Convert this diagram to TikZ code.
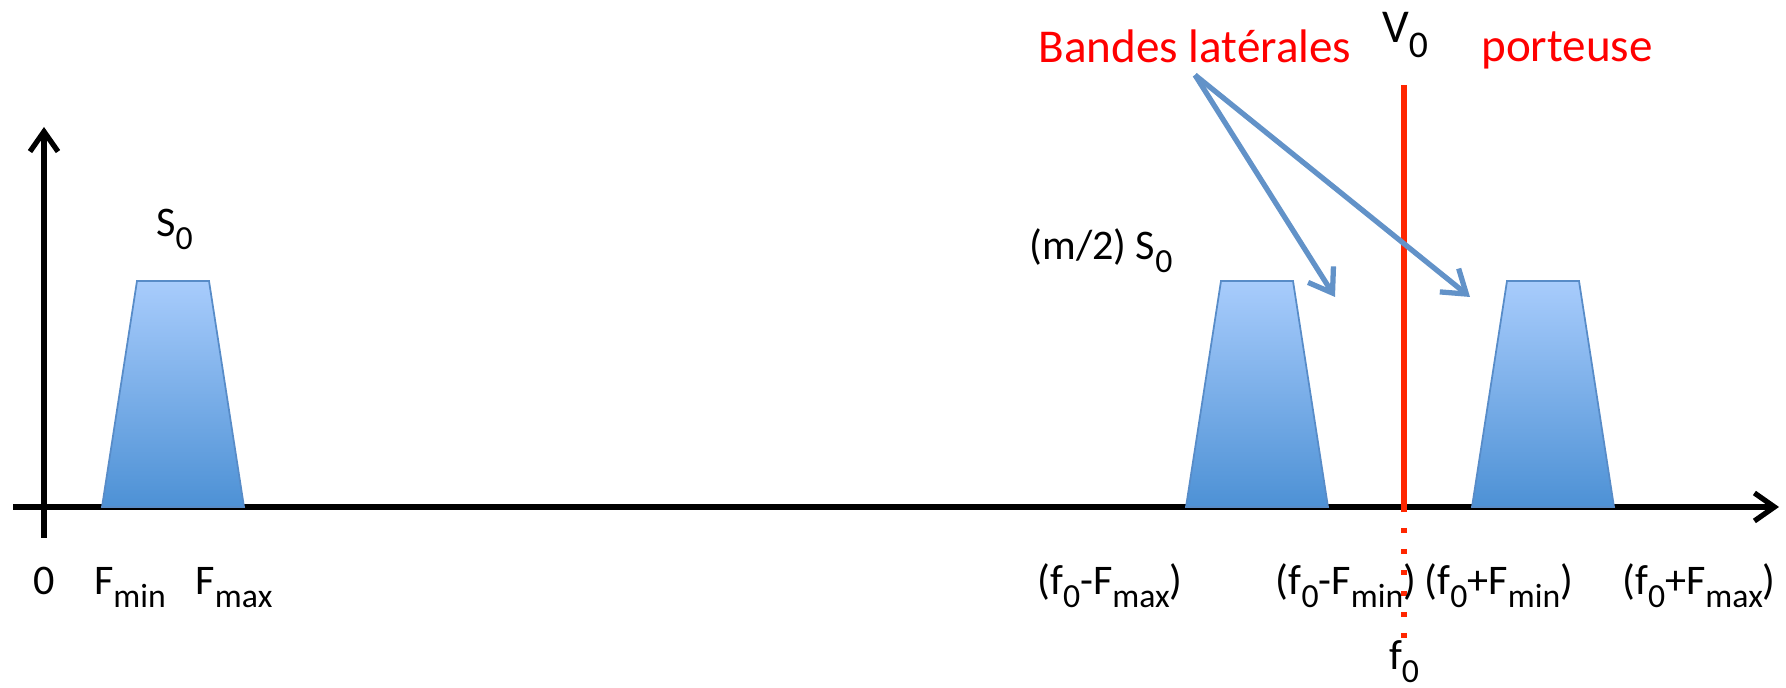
\documentclass[tikz,border=0pt]{standalone}
\usepackage{fontspec}
\setmainfont{Carlito}
\usetikzlibrary{calc,arrows.meta}

\definecolor{rougeligne}{RGB}{255,38,0}
\definecolor{bleufleche}{RGB}{98,146,200}
\definecolor{bandehaut}{RGB}{168,204,252}
\definecolor{bandebas}{RGB}{77,145,213}
\definecolor{bandebord}{RGB}{88,140,200}

% indice abaisse
\newcommand{\ind}[1]{\raisebox{-0.3em}{\scalebox{0.8}{#1}}}

\tikzset{
    bande/.style={top color=bandehaut, bottom color=bandebas, draw=bandebord, line width=0.5pt},
    axe/.style={line width=1.5pt, -{Straight Barb[length=2mm, width=2.8mm]}},
    fleche/.style={bleufleche, line width=1.5pt, -{Straight Barb[length=2.2mm, width=3mm]}},
    etiq/.style={font=\fontsize{12}{14}\selectfont, anchor=base, inner sep=0pt},
    rouge/.style={font=\fontsize{13.4}{16}\selectfont, text=red, anchor=base, inner sep=0pt}
}

\begin{document}
\begin{tikzpicture}
    \useasboundingbox (0,0) rectangle (17.86,6.88);
    \pgfmathsetmacro{\ya}{1.81}
    \pgfmathsetmacro{\yh}{4.07}
    \pgfmathsetmacro{\xp}{14.04}
    \coordinate (O) at (0.44,\ya);
    \coordinate (xg) at (0.13,\ya);
    \coordinate (xd) at (17.79,\ya);
    \coordinate (yb) at (0.44,1.50);
    \coordinate (yh) at (0.44,5.61);
    \coordinate (ptop) at (\xp,6.03);
    \coordinate (pax) at (\xp,\ya);
    \coordinate (pbas) at (\xp,0.50);
    \coordinate (fl1) at (13.35,3.91);
    \coordinate (fl2) at (14.70,3.91);
    % axes
    \draw [axe] (xg)--(xd);
    \draw [axe] (yb)--(yh);
    % bandes
    \foreach \c in {1.73,12.57,15.43}
        \draw [bande] ({\c-0.71},\ya)--({\c-0.36},\yh)--({\c+0.36},\yh)--({\c+0.71},\ya)--cycle;
    % porteuse
    \draw [rougeligne, line width=1.7pt] (ptop)--(pax);
    \draw [rougeligne, line width=1.7pt, dash pattern=on 0.05cm off 0.16cm] (pax)--(pbas);
    \node[rouge] (bandes) at (11.95,6.25) {Bandes latérales};
    \node[rouge] (port) at (15.67,6.26) {porteuse};
    \node[etiq, font=\fontsize{13.4}{16}\selectfont] (V0) at (14.05,6.45) {V\ind{0}};
    \draw [fleche] ([yshift=-1.1mm]bandes.south)--(fl1);
    \draw [fleche] ([yshift=-1.1mm]bandes.south)--(fl2);
    % amplitudes
    \node[etiq] (S0) at (1.745,4.51) {S\ind{0}};
    \node[etiq] (mS0) at (11.01,4.28) {(m/2) S\ind{0}};
    % frequences
    \node[etiq] (zero) at (0.44,0.93) {0};
    \node[etiq] (fmin) at (1.30,0.93) {F\ind{min}};
    \node[etiq] (fmax) at (2.34,0.93) {F\ind{max}};
    \node[etiq] (f0mFmax) at (11.10,0.93) {(f\ind{0}-F\ind{max})};
    \node[etiq] (f0mFmin) at (13.46,0.93) {(f\ind{0}-F\ind{min})};
    \node[etiq] (f0pFmin) at (14.99,0.93) {(f\ind{0}+F\ind{min})};
    \node[etiq] (f0pFmax) at (16.99,0.93) {(f\ind{0}+F\ind{max})};
    \node[etiq] (f0) at (\xp,0.18) {f\ind{0}};
\end{tikzpicture}
\end{document}
